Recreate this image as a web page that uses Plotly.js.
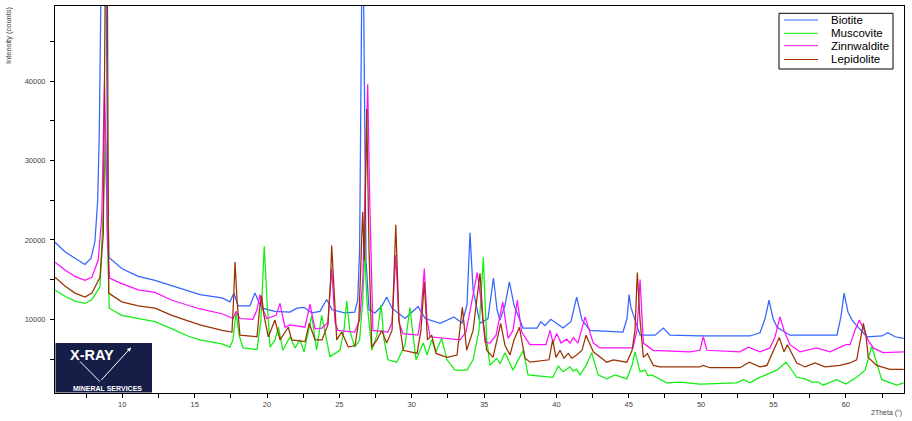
<!DOCTYPE html>
<html>
<head>
<meta charset="utf-8">
<script src="https://cdn.plot.ly/plotly-3.0.1.min.js"></script>
<style>
html,body{margin:0;padding:0;background:#fff;}
#chart{width:912px;height:421px;}
</style>
</head>
<body>
<div id="chart"></div>
<script>
// ---- data: [2Theta (deg), Intensity (counts)] ----
var seriesNames = ['Biotite', 'Muscovite', 'Zinnwaldite', 'Lepidolite'];
var seriesColors = ['#3366ff', '#11ee11', '#ff11ff', '#993300'];

var biotite = [
[5.35,19700],[6.04,18500],[6.73,17700],[7.42,16900],[7.84,17700],[8.11,19800],[8.30,25000],[8.41,33400],
[8.53,52000],[8.88,52000],[9.00,26000],[9.08,17800],[9.96,16400],[11.1,15400],[12.26,14900],[13.43,14200],
[14.54,13500],[15.37,13100],[16.89,12700],[17.44,12200],[17.72,13300],[18.0,11700],[18.82,11700],[19.17,13300],
[19.38,12400],[19.65,11400],[20.55,11000],[21.59,10900],[22.07,11400],[22.56,11500],[23.1,10800],[23.66,11000],
[24.12,12500],[24.5,11200],[25.37,10800],[26.06,10900],[26.27,12400],[26.4,18700],[26.55,52000],[26.67,52000],
[26.84,17500],[27.05,11200],[27.46,10800],[27.95,11700],[28.27,12800],[28.64,11400],[29.54,10100],[30.44,11600],
[30.93,10100],[31.97,9500],[32.93,10300],[33.48,9500],[33.82,11800],[34.03,20900],[34.24,13700],[34.72,9500],
[35.27,10100],[35.65,15200],[35.9,11200],[36.1,9900],[36.45,11800],[36.75,14700],[37.07,11800],[37.69,8900],
[38.66,8900],[38.92,9700],[39.21,9200],[39.61,10000],[40.46,8900],[41.0,9700],[41.4,12800],[41.77,9900],
[42.32,8600],[44.6,8400],[44.88,10100],[45.02,13100],[45.15,11500],[45.36,10300],[45.78,8000],[46.82,8000],
[47.39,8900],[47.85,8000],[49.92,7900],[53.38,7900],[54.07,8300],[54.42,10100],[54.69,12400],[54.97,10100],
[55.25,9000],[56.14,8000],[59.39,8000],[59.67,10400],[59.88,13300],[60.15,10900],[60.43,9900],[60.7,9300],
[61.46,7800],[62.5,7900],[62.9,8300],[63.4,7800],[64.0,7600]
];

var muscovite = [
[5.35,13700],[6.04,12900],[6.73,12300],[7.42,12000],[7.9,12500],[8.25,13400],[8.46,14100],[8.69,24100],
[8.85,32300],[8.96,20800],[9.1,11400],[9.96,10500],[11.1,10100],[12.26,9700],[13.43,8800],[14.54,7900],
[15.37,7400],[16.89,6900],[17.44,6500],[17.65,7400],[17.86,10900],[18.07,8000],[18.34,6400],[19.31,6200],
[19.58,9900],[19.81,19200],[20.0,12400],[20.21,6500],[20.55,7400],[20.79,9000],[21.1,6100],[21.59,7800],
[21.94,6400],[22.28,7400],[22.56,5900],[23.09,10500],[23.43,6100],[23.78,10500],[24.35,5300],[25.04,6100],
[25.32,8600],[25.51,12300],[25.72,8600],[26.06,6500],[26.4,7400],[26.62,12400],[26.76,18500],[26.9,12400],
[27.24,6100],[27.6,8000],[27.88,11800],[28.09,7400],[28.36,4900],[28.96,4600],[29.54,6800],[29.88,11500],
[30.09,8000],[30.3,4900],[30.8,7000],[31.06,5500],[31.38,7400],[31.68,5900],[32.07,7600],[32.44,4900],
[32.99,3600],[33.82,3600],[34.24,4900],[34.65,8600],[34.95,17800],[35.18,7400],[35.41,4200],[35.87,5100],
[36.1,4400],[36.45,5800],[37.0,3600],[37.35,4900],[37.71,6100],[38.04,3000],[39.76,2700],[40.13,4100],
[40.46,3400],[40.94,4000],[41.15,3500],[41.4,3700],[41.63,3000],[42.05,4200],[42.44,5800],[42.88,3000],
[43.48,2500],[44.05,3000],[44.86,2500],[45.23,4200],[45.43,5900],[45.78,3400],[46.12,3600],[46.33,2900],
[46.59,3000],[47.62,2000],[48.54,2100],[49.92,1850],[52.46,2000],[52.92,2400],[53.38,2000],[53.84,2500],
[55.23,3600],[55.87,4600],[56.61,2700],[57.18,2500],[57.66,2100],[58.1,2100],[58.42,1700],[59.37,2400],
[60.01,1850],[60.75,2700],[61.33,3600],[61.79,6600],[62.09,4900],[62.48,2400],[63.52,1700],[64.0,2000]
];

var zinnwaldite = [
[5.35,17200],[6.04,16200],[6.73,15400],[7.42,14900],[7.9,15300],[8.34,17500],[8.58,22900],[8.69,31300],
[8.77,39700],[8.87,31300],[8.98,20000],[9.12,15200],[9.96,14500],[11.1,13700],[12.26,13400],[13.43,12400],
[14.54,11800],[15.37,11300],[16.89,10700],[17.65,10100],[17.86,11000],[18.13,10100],[19.03,10000],[19.31,11200],
[19.51,13100],[19.72,11200],[19.98,10100],[20.62,10500],[20.9,12000],[21.1,10100],[21.24,9000],[21.59,9300],
[22.63,9000],[22.97,11900],[23.32,8800],[23.8,8900],[24.21,9600],[24.47,16400],[24.7,9600],[24.9,8600],
[26.06,8400],[26.4,9900],[26.62,14900],[26.76,25000],[26.96,39600],[27.1,25000],[27.32,8600],[28.36,8400],
[28.64,9600],[28.9,18100],[29.12,9600],[29.4,8200],[30.44,8000],[30.64,10500],[30.87,16400],[31.06,9900],
[31.27,7800],[33.34,7400],[33.75,8400],[34.17,12400],[34.53,15900],[34.79,12400],[35.07,7100],[35.41,7000],
[35.83,8000],[36.29,12200],[36.66,7600],[37.0,8600],[37.3,12400],[37.6,8400],[38.17,6800],[39.28,6800],
[39.56,8600],[39.77,7000],[40.02,8200],[40.32,7000],[40.71,7500],[40.94,7000],[41.17,7700],[41.49,7000],
[41.98,10300],[42.55,7000],[43.01,6400],[45.29,6400],[45.57,8600],[45.78,15000],[46.01,7000],[46.68,6100],
[49.23,5900],[49.92,6100],[50.15,7800],[50.4,6100],[52.68,5900],[53.26,6500],[54.07,5900],[54.76,6400],
[55.11,7800],[55.45,10300],[55.73,8600],[56.14,6800],[56.83,5900],[57.99,6400],[58.91,5900],[60.01,6800],
[60.29,6800],[60.63,8600],[60.93,9900],[61.18,9000],[61.53,7400],[61.9,6400],[62.57,5800],[64.0,5900]
];

var lepidolite = [
[5.35,15300],[6.04,14200],[6.73,13300],[7.42,12800],[7.9,13300],[8.46,15300],[8.69,20800],[8.82,52000],
[8.97,52000],[9.06,13300],[9.96,12200],[11.1,11700],[12.26,11400],[13.43,10500],[14.54,9800],[15.37,9300],
[16.89,8600],[17.58,8400],[17.69,12400],[17.79,17200],[17.93,12400],[18.13,8000],[19.31,7800],[19.48,11200],
[19.63,13000],[19.79,10500],[20.09,7800],[20.55,9900],[20.9,7400],[21.47,9000],[21.71,7400],[22.63,7200],
[22.92,9500],[23.32,7400],[23.8,7400],[24.21,9300],[24.39,14900],[24.47,19300],[24.6,14900],[24.82,7400],
[25.16,8400],[25.62,6500],[26.08,6700],[26.35,9900],[26.61,23500],[26.73,17400],[26.89,36500],[27.05,18700],
[27.24,6500],[27.6,7400],[27.93,8600],[28.27,7000],[28.64,8600],[28.9,21900],[29.12,9900],[29.42,6100],
[30.37,5700],[30.64,8600],[30.87,14700],[31.09,7400],[31.38,8000],[31.68,5700],[32.44,5200],[33.13,5500],
[33.5,11500],[33.8,6100],[34.24,8600],[34.72,15800],[34.93,9900],[35.18,6100],[35.62,5200],[35.9,7400],
[36.15,9500],[36.45,6700],[36.79,5500],[37.07,7400],[37.44,9000],[37.83,5100],[38.18,4600],[39.49,4900],
[39.74,7400],[39.97,5200],[40.25,6100],[40.52,5100],[40.82,5700],[41.06,5100],[41.4,5500],[41.77,6100],
[42.05,8000],[42.55,5900],[43.48,4600],[43.94,4900],[44.86,4600],[45.23,6100],[45.43,8600],[45.59,15900],
[45.78,9900],[46.01,5200],[46.28,5700],[46.7,4200],[47.16,4000],[49.92,4000],[50.15,4200],[50.61,3900],
[52.68,3900],[53.33,4600],[54.07,4000],[54.55,4200],[55.04,6100],[55.4,7700],[55.73,5900],[55.96,6800],
[56.61,4500],[57.18,4000],[57.87,4500],[58.56,4000],[59.6,4200],[60.29,4500],[60.75,4900],[60.98,7400],
[61.21,9500],[61.39,8000],[61.55,5200],[62.13,4200],[63.05,3700],[64.0,3700]
];

var allSeries = [biotite, muscovite, zinnwaldite, lepidolite];

// ---- layout helpers (pixel -> paper), plot area: x 55..904, y 6..393 ----
var L = 55, R = 904, T = 6, B = 393;
function PX(p){ return (p - L) / (R - L); }
function PY(p){ return (B - p) / (B - T); }

var traces = allSeries.map(function(s, i){
  return {
    type: 'scatter', mode: 'lines', name: seriesNames[i],
    x: s.map(function(d){ return d[0]; }),
    y: s.map(function(d){ return d[1]; }),
    line: {color: seriesColors[i], width: 1.25},
    hoverinfo: 'x+y+name'
  };
});

var tickFont = {family: 'Liberation Sans, Arial, sans-serif', size: 7.5, color: '#444'};

var shapes = [
  // logo box
  {type:'rect', xref:'paper', yref:'paper', x0:PX(55.5), x1:PX(152), y0:PY(392.5), y1:PY(343),
   fillcolor:'#161d47', line:{width:0}, layer:'above'},
  // V left arm
  {type:'line', xref:'paper', yref:'paper', x0:PX(80), y0:PY(361.5), x1:PX(100), y1:PY(381.7),
   line:{color:'#ffffff', width:1}, layer:'above'},
  // legend box
  {type:'rect', xref:'paper', yref:'paper', x0:PX(779), x1:PX(893), y0:PY(69), y1:PY(13.3),
   fillcolor:'#ffffff', line:{color:'#000', width:1}, layer:'above'}
];
var legendRows = [20, 33.3, 45.7, 59.5];
var annotations = [
  {xref:'paper', yref:'paper', x:PX(8), y:PY(4), xanchor:'center', yanchor:'top', textangle:-90,
   text:'Intensity (counts)', showarrow:false, font:{family:'Liberation Sans, Arial, sans-serif', size:7.5, color:'#444'}},
  {xref:'paper', yref:'paper', x:PX(904), y:PY(413), xanchor:'right', yanchor:'middle',
   text:'2Theta (°)', showarrow:false, font:{family:'Liberation Sans, Arial, sans-serif', size:7, color:'#444'}},
  // logo texts
  {xref:'paper', yref:'paper', x:PX(92), y:PY(354.5), xanchor:'center', yanchor:'middle',
   text:'<b>X-RAY</b>', showarrow:false, font:{family:'Liberation Sans, Arial, sans-serif', size:14.5, color:'#ffffff'}},
  {xref:'paper', yref:'paper', x:PX(107), y:PY(388), xanchor:'center', yanchor:'middle',
   text:'<b>MINERAL SERVICES</b>', showarrow:false, font:{family:'Liberation Sans Narrow, Liberation Sans, Arial, sans-serif', size:7, color:'#ffffff'}},
  // V right arm with arrowhead
  {xref:'paper', yref:'paper', x:PX(131), y:PY(347.5), axref:'pixel', ayref:'pixel', ax:-31, ay:34,
   text:'', showarrow:true, arrowhead:2, arrowsize:0.8, arrowwidth:1, arrowcolor:'#ffffff', standoff:0}
];
seriesNames.forEach(function(n, i){
  shapes.push({type:'line', xref:'paper', yref:'paper', x0:PX(784), x1:PX(818), y0:PY(legendRows[i]), y1:PY(legendRows[i]),
    line:{color:seriesColors[i], width:1}, layer:'above'});
  annotations.push({xref:'paper', yref:'paper', x:PX(829), y:PY(legendRows[i]), xanchor:'left', yanchor:'middle',
    text:n, showarrow:false, font:{family:'Liberation Sans, Arial, sans-serif', size:11.5, color:'#000'}});
});

var layout = {
  width: 912, height: 421,
  margin: {l: L, r: 912 - R, t: T, b: 421 - B, pad: 0},
  paper_bgcolor: '#ffffff', plot_bgcolor: '#ffffff',
  showlegend: false,
  xaxis: {
    range: [5.35, 64.02], tick0: 0, dtick: 5, ticks: 'outside', ticklen: 4, tickwidth: 1, tickcolor: '#000',
    showline: true, linecolor: '#000', linewidth: 1, mirror: true, showgrid: false, zeroline: false,
    tickfont: tickFont,
    minor: {tick0: 0, dtick: 2.5, ticks: 'outside', ticklen: 4, tickwidth: 1, tickcolor: '#000', showgrid: false}
  },
  yaxis: {
    range: [718, 49460], tick0: 0, dtick: 10000, tickformat: 'd', ticks: 'outside', ticklen: 4, tickwidth: 1, tickcolor: '#000',
    showline: true, linecolor: '#000', linewidth: 1, mirror: true, showgrid: false, zeroline: false,
    tickfont: tickFont, ticklabelstandoff: 3,
    minor: {tick0: 0, dtick: 5000, ticks: 'outside', ticklen: 4, tickwidth: 1, tickcolor: '#000', showgrid: false}
  },
  shapes: shapes,
  annotations: annotations
};

Plotly.newPlot('chart', traces, layout, {displayModeBar: false, staticPlot: true});
</script>
</body>
</html>
